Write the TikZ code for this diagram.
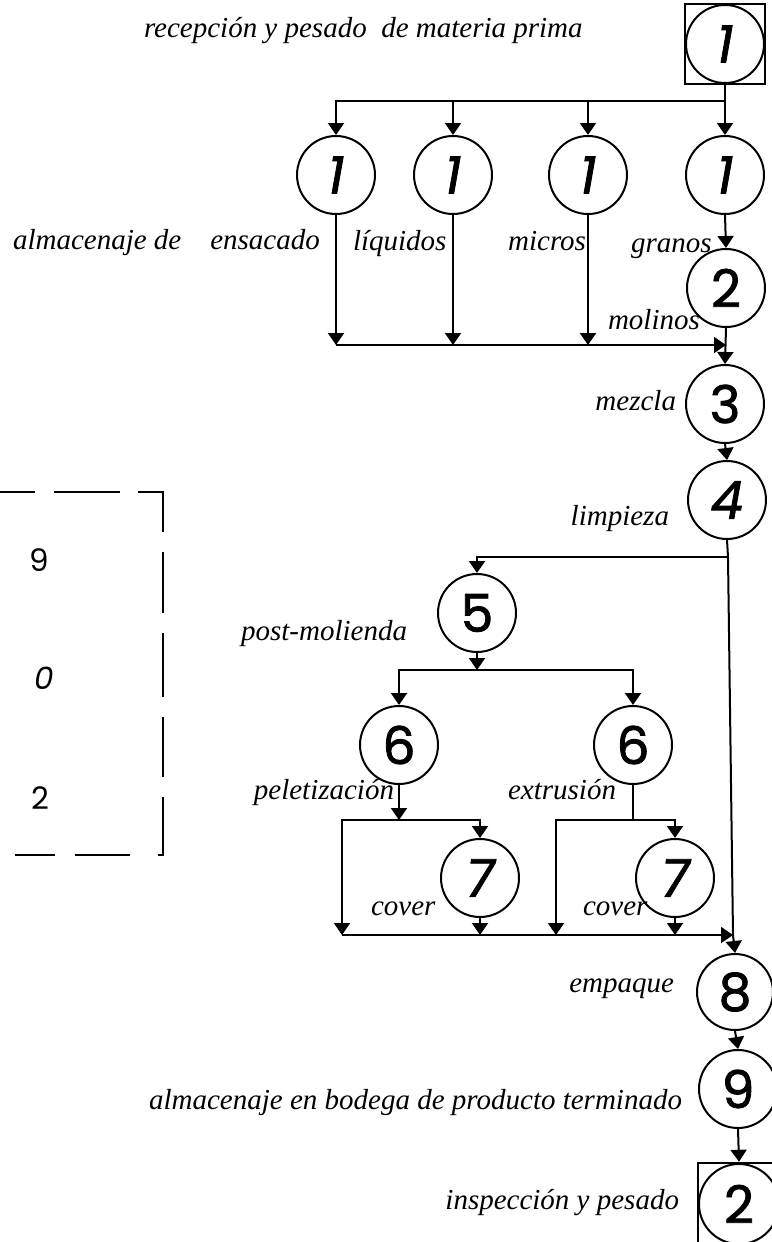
\documentclass[tikz,border=0pt]{standalone}
\usepackage{fontspec}
\setsansfont{Poppins}
\newfontfamily\lblfont{Liberation Serif}
\newfontfamily\digitfont{Poppins}[FakeBold=1.6]
\usetikzlibrary{arrows.meta}
\begin{document}
\begin{tikzpicture}[x=1pt,y=-1pt,
  line width=2pt,
  >={Triangle[width=16pt,length=12pt]},
  stage/.style={circle,draw,minimum size=78pt,inner sep=0pt,
    font=\fontsize{52}{52}\digitfont},
  frame/.style={rectangle,draw,line width=2.5pt,minimum size=80pt,inner sep=0pt},
  lbl/.style={inner sep=0pt,font=\fontsize{29}{31}\lblfont\itshape},
  boxnum/.style={inner sep=0pt,font=\fontsize{31}{31}\sffamily},
  flow/.style={->},
]
\useasboundingbox (0,0) rectangle (771,1242);

% operations
\node[frame] (q1) at (725,44) {};
\node[stage] (n1) at (725,44) {\itshape 1};
\node[stage] (a1) at (336,175) {\itshape 1};
\node[stage] (a2) at (453,175) {\itshape 1};
\node[stage] (a3) at (588,175) {\itshape 1};
\node[stage] (a4) at (725,175) {\itshape 1};
\node[stage] (n2) at (726,288) {2};
\node[stage] (n3) at (725,404) {3};
\node[stage] (n4) at (727,500) {\itshape 4};
\node[stage] (n5) at (477,613) {5};
\node[stage] (n6a) at (399,745) {6};
\node[stage] (n6b) at (633,745) {6};
\node[stage] (n7a) at (480,878) {\itshape 7};
\node[stage] (n7b) at (675,878) {\itshape 7};
\node[stage,minimum size=76pt] (n8) at (735,992) {8};
\node[stage] (n9) at (738,1089) {9};
\node[frame,minimum size=82pt] (q2) at (739,1204) {};
\node[stage,minimum size=80pt] (e2) at (739,1204) {2};

% labels
\node[lbl,anchor=mid west] (l1) at (143,35) {recepción y pesado\enspace de materia prima};
\node[lbl,anchor=mid west] (l2) at (12,247) {almacenaje de\quad ensacado};
\node[lbl,anchor=mid west] (l3) at (352,248) {líquidos};
\node[lbl,anchor=mid east] (l4) at (587,248) {micros};
\node[lbl,anchor=mid west] (l5) at (630,250) {granos};
\node[lbl,anchor=mid west] (l6) at (607,327) {molinos};
\node[lbl,anchor=mid east] (l7) at (677,408) {mezcla};
\node[lbl,anchor=mid east] (l8) at (670,523) {limpieza};
\node[lbl,anchor=mid east] (l9) at (408,638) {post-molienda};
\node[lbl,anchor=mid east] (l10) at (395,797) {peletización};
\node[lbl,anchor=mid east] (l11) at (617,797) {extrusión};
\node[lbl,anchor=mid west] (l12) at (370,913) {cover};
\node[lbl,anchor=mid west] (l13) at (582,913) {cover};
\node[lbl,anchor=mid east] (l14) at (675,990) {empaque};
\node[lbl,anchor=mid east] (l15) at (683,1107) {almacenaje en bodega de producto terminado};
\node[lbl,anchor=mid east] (l16) at (680,1207) {inspección y pesado};

% junction points
\coordinate (t1) at (725,101);
\coordinate (c1) at (336,345);
\coordinate (c2) at (726,345);
\coordinate (b4) at (728,557);
\coordinate (b5) at (477,670);
\coordinate (b6a) at (399,820);
\coordinate (b6b) at (633,820);
\coordinate (d0) at (342,935);
\coordinate (d1) at (556,935);
\coordinate (j8) at (733,935);

% reception to storage
\draw[flow] (q1.south) -- (a4.north);
\draw[flow] (t1) -| (a1.north);
\draw[flow] (a2.north |- t1) -- (a2.north);
\draw[flow] (a3.north |- t1) -- (a3.north);

% storage to mixing
\draw[flow] (a1.south) -- (a1.south |- c1);
\draw[flow] (a2.south) -- (a2.south |- c1);
\draw[flow] (a3.south) -- (a3.south |- c1);
\draw[flow] (c1) -- (c2);
\draw[flow] (a4.south) -- (n2.north);
\draw[flow] (n2.south) -- (n3.north);
\draw[flow] (n3.south) -- (n4.north);

% cleaning and post-grinding
\draw (n4.south) -- (b4);
\draw[flow] (b4) -| (n5.north);
\draw[flow] (n5.south) -- (b5);
\draw[flow] (b5) -| (n6a.north);
\draw[flow] (b5) -| (n6b.north);

% pelleting branch
\draw[flow] (n6a.south) -- (b6a);
\draw[flow] (b6a) -| (n7a.north);
\draw[flow] (b6a) -| (d0);
\draw[flow] (n7a.south) -- (n7a.south |- d0);

% extrusion branch
\draw (n6b.south) -- (b6b);
\draw[flow] (b6b) -| (n7b.north);
\draw[flow] (b6b) -| (d1);
\draw[flow] (n7b.south) -- (n7b.south |- d0);

% packing and storage
\draw[flow] (d0) -- (j8);
\draw (b4) -- (j8);
\draw[flow] (j8) -- (n8.north);
\draw[flow] (n8.south) -- (n9.north);
\draw[flow] (n9.south) -- (q2.north);

% dashed summary box
\begin{scope}[line width=2.5pt]
  \draw (0,492) -- (35,492);
  \draw (54,492) -- (120,492);
  \draw (138,492) -- (163,492) -- (163,532);
  \draw (163,552) -- (163,613);
  \draw (163,633) -- (163,697);
  \draw (163,717) -- (163,777);
  \draw (163,797) -- (163,855) -- (158,855);
  \draw (75,855) -- (130,855);
  \draw (15,855) -- (55,855);
\end{scope}
\node[boxnum] (k1) at (39,560) {9};
\node[boxnum] (k2) at (44,678) {\itshape 0};
\node[boxnum] (k3) at (40,798) {2};
\end{tikzpicture}
\end{document}
